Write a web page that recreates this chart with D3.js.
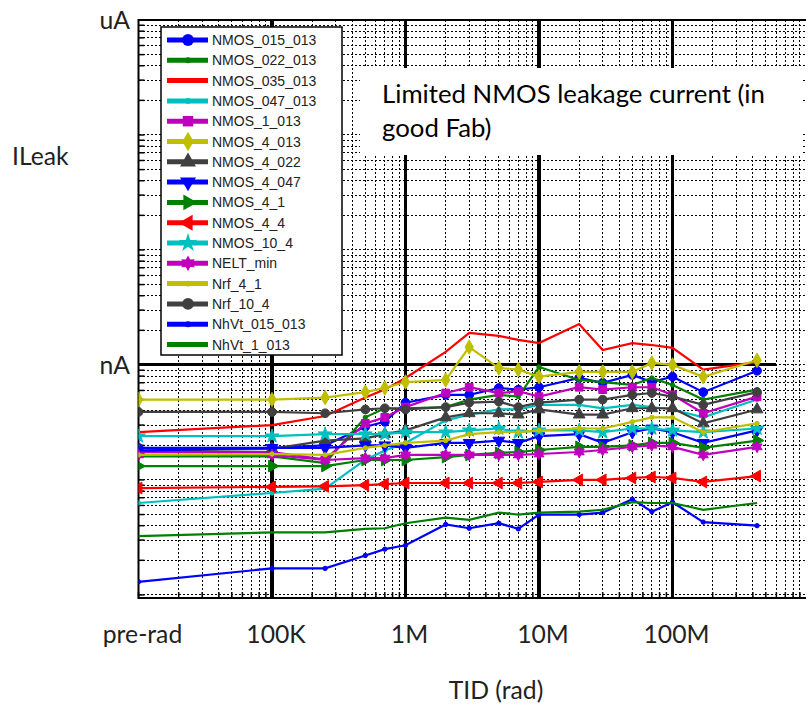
<!DOCTYPE html>
<html>
<head>
<meta charset="utf-8">
<script src="https://cdn.jsdelivr.net/npm/d3@7"></script>
<style>
  body { margin: 0; background: #fff; }
  svg { display: block; }
</style>
</head>
<body>
<script>
// doses in rad (pre-rad drawn at 1e4), currents in nA
var doses = [1e4, 1e5, 2.5e5, 5e5, 7e5, 1e6, 2e6, 3e6, 5e6, 7e6, 1e7, 2e7, 3e7, 5e7, 7e7, 1e8, 1.7e8, 4.3e8];
var xTickValues = [1e4, 1e5, 1e6, 1e7, 1e8];
var xTickLabels = ["pre-rad", "100K", "1M", "10M", "100M"];
var yTickValues = [1, 1000];
var yTickLabels = ["nA", "uA"];

var seriesNames = ["NMOS_015_013", "NMOS_022_013", "NMOS_035_013", "NMOS_047_013", "NMOS_1_013",
  "NMOS_4_013", "NMOS_4_022", "NMOS_4_047", "NMOS_4_1", "NMOS_4_4", "NMOS_10_4", "NELT_min",
  "Nrf_4_1", "Nrf_10_4", "NhVt_015_013", "NhVt_1_013"];

var nmos_015_013 = [0.19, 0.19, 0.20, 0.29, 0.32, 0.47, 0.55, 0.55, 0.63, 0.61, 0.64, 0.77, 0.70, 0.82, 0.71, 0.79, 0.58, 0.89];
var nmos_022_013 = [0.16, 0.16, 0.14, 0.35, 0.42, 0.42, 0.43, 0.50, 0.55, 0.53, 0.96, 0.74, 0.71, 0.67, 0.77, 0.67, 0.50, 0.61];
var nmos_035_013 = [0.26, 0.30, 0.36, 0.52, 0.61, 0.77, 1.30, 1.90, 1.79, 1.65, 1.55, 2.27, 1.35, 1.55, 1.49, 1.41, 0.91, 1.06];
var nmos_047_013 = [0.063, 0.077, 0.084, 0.15, 0.18, 0.21, 0.33, 0.37, 0.41, 0.41, 0.45, 0.45, 0.42, 0.45, 0.43, 0.41, 0.35, 0.50];
var nmos_1_013 = [0.175, 0.175, 0.15, 0.31, 0.35, 0.43, 0.57, 0.64, 0.57, 0.59, 0.53, 0.64, 0.61, 0.64, 0.64, 0.55, 0.38, 0.53];
var nmos_4_013 = [0.50, 0.50, 0.52, 0.58, 0.63, 0.71, 0.74, 1.43, 0.94, 0.91, 0.79, 0.87, 0.87, 0.87, 1.04, 1.00, 0.79, 1.10];
var nmos_4_022 = [0.18, 0.186, 0.22, 0.23, 0.25, 0.27, 0.35, 0.38, 0.38, 0.37, 0.41, 0.37, 0.37, 0.42, 0.42, 0.42, 0.31, 0.41];
var nmos_4_047 = [0.18, 0.19, 0.19, 0.20, 0.20, 0.19, 0.21, 0.21, 0.22, 0.21, 0.24, 0.25, 0.21, 0.26, 0.28, 0.26, 0.21, 0.27];
var nmos_4_1 = [0.132, 0.132, 0.132, 0.149, 0.149, 0.149, 0.158, 0.165, 0.172, 0.175, 0.182, 0.194, 0.194, 0.20, 0.21, 0.21, 0.19, 0.22];
var nmos_4_4 = [0.085, 0.087, 0.088, 0.090, 0.092, 0.094, 0.094, 0.094, 0.094, 0.094, 0.096, 0.10, 0.10, 0.104, 0.106, 0.104, 0.096, 0.108];
var nmos_10_4 = [0.24, 0.24, 0.25, 0.25, 0.25, 0.26, 0.26, 0.27, 0.28, 0.26, 0.27, 0.27, 0.26, 0.28, 0.28, 0.27, 0.26, 0.28];
var nelt_min = [0.165, 0.165, 0.149, 0.155, 0.155, 0.165, 0.165, 0.165, 0.165, 0.165, 0.168, 0.175, 0.182, 0.194, 0.20, 0.194, 0.165, 0.194];
var nrf_4_1 = [0.165, 0.168, 0.165, 0.19, 0.20, 0.21, 0.22, 0.25, 0.26, 0.26, 0.27, 0.28, 0.28, 0.32, 0.35, 0.35, 0.26, 0.31];
var nrf_10_4 = [0.39, 0.39, 0.38, 0.41, 0.42, 0.41, 0.43, 0.47, 0.48, 0.43, 0.47, 0.50, 0.50, 0.55, 0.57, 0.53, 0.45, 0.58];
var nhvt_015_013 = [0.013, 0.017, 0.017, 0.022, 0.025, 0.027, 0.041, 0.038, 0.042, 0.0375, 0.050, 0.050, 0.052, 0.068, 0.053, 0.064, 0.043, 0.040];
var nhvt_1_013 = [0.0325, 0.035, 0.035, 0.0375, 0.038, 0.042, 0.047, 0.045, 0.052, 0.050, 0.052, 0.053, 0.055, 0.064, 0.063, 0.063, 0.055, 0.063];

var seriesValues = [nmos_015_013, nmos_022_013, nmos_035_013, nmos_047_013, nmos_1_013, nmos_4_013,
  nmos_4_022, nmos_4_047, nmos_4_1, nmos_4_4, nmos_10_4, nelt_min, nrf_4_1, nrf_10_4, nhvt_015_013, nhvt_1_013];

// matlab-ish colour order and marker per series
var colors = ["#0000ff", "#008000", "#ff0000", "#00bfbf", "#bf00bf", "#bfbf00", "#404040", "#0000ff",
  "#008000", "#ff0000", "#00bfbf", "#bf00bf", "#bfbf00", "#404040", "#0000ff", "#008000"];
var markers = ["circle", "point", "none", "point", "square", "diamond", "triUp", "triDown",
  "triRight", "triLeft", "star", "hexagram", "point", "circle", "point", "none"];

function init(){

    var w = 808;
    var h = 710;
    var labelFont = "Lato, 'Open Sans', sans-serif";

    var svg = d3.select("body")
            .append("svg")
            .attr("width", w)
            .attr("height", h);

    var x = d3.scaleLog().domain([1e4, 1e9]).range([138.5, 806]);
    var y = d3.scaleLog().domain([0.0094, 1000]).range([598, 20]);

    var left = x.range()[0], right = x.range()[1];
    var top = y.range()[1], bottom = y.range()[0];

    // log grid values
    var xGrid = [];
    for (var k = 4; k <= 8; k++) {
        for (var m = 1; m <= 9; m++) xGrid.push(m * Math.pow(10, k));
    }
    var yGrid = [];
    for (var k2 = -2; k2 <= 2; k2++) {
        for (var m2 = 1; m2 <= 9; m2++) yGrid.push(+(m2 * Math.pow(10, k2)).toPrecision(3));
    }
    yGrid.push(1000);

    var grid = svg.append("g").attr("shape-rendering", "crispEdges");
    grid.selectAll("line.gx")
        .data(xGrid.filter(function(d){ return d > 1e4; }))
        .enter()
        .append("line")
        .attr("x1", function(d){ return x(d); })
        .attr("x2", function(d){ return x(d); })
        .attr("y1", top)
        .attr("y2", bottom)
        .attr("stroke", "#000")
        .attr("stroke-width", 1)
        .attr("stroke-dasharray", "2,2");

    grid.selectAll("line.gy")
        .data(yGrid.filter(function(d){ return d < 1000; }))
        .enter()
        .append("line")
        .attr("x1", left)
        .attr("x2", right)
        .attr("y1", function(d){ return y(d); })
        .attr("y2", function(d){ return y(d); })
        .attr("stroke", "#000")
        .attr("stroke-width", 1)
        .attr("stroke-dasharray", "2,2");

    // heavy decade lines
    grid.selectAll("line.mx")
        .data([1e5, 1e6, 1e7, 1e8])
        .enter()
        .append("line")
        .attr("x1", function(d){ return x(d); })
        .attr("x2", function(d){ return x(d); })
        .attr("y1", top)
        .attr("y2", bottom)
        .attr("stroke", "#000")
        .attr("stroke-width", 3.5);

    grid.append("line")
        .attr("x1", left)
        .attr("x2", x(6e8))
        .attr("y1", y(1))
        .attr("y2", y(1))
        .attr("stroke", "#000")
        .attr("stroke-width", 3);

    // frame and small inside ticks
    svg.append("path")
        .attr("d", "M" + right + "," + top + "H" + left + "V" + bottom + "H" + right)
        .attr("fill", "none")
        .attr("stroke", "#000")
        .attr("stroke-width", 2);

    svg.selectAll("line.ty")
        .data(yGrid)
        .enter()
        .append("line")
        .attr("x1", left)
        .attr("x2", left + 6)
        .attr("y1", function(d){ return y(d); })
        .attr("y2", function(d){ return y(d); })
        .attr("stroke", "#000")
        .attr("stroke-width", 1.5);

    svg.selectAll("line.tx")
        .data(xGrid)
        .enter()
        .append("line")
        .attr("x1", function(d){ return x(d); })
        .attr("x2", function(d){ return x(d); })
        .attr("y1", bottom)
        .attr("y2", bottom - 6)
        .attr("stroke", "#000")
        .attr("stroke-width", 1.5);

    // markers
    function markerPath(type, size){
        if (type === "hexagram") {
            var R = Math.sqrt(size) * 0.75, r = R * 0.55, pts = [];
            for (var i = 0; i < 12; i++) {
                var a = Math.PI / 6 * i - Math.PI / 2;
                var rr = i % 2 ? r : R;
                pts.push([rr * Math.cos(a), rr * Math.sin(a)]);
            }
            return "M" + pts.join("L") + "Z";
        }
        var sym = {
            circle: d3.symbolCircle, point: d3.symbolCircle, square: d3.symbolSquare,
            diamond: d3.symbolDiamond, triUp: d3.symbolTriangle, triDown: d3.symbolTriangle,
            triRight: d3.symbolTriangle, triLeft: d3.symbolTriangle, star: d3.symbolStar
        }[type];
        if (type === "point") size = size * 0.25;
        return d3.symbol().type(sym).size(size)();
    }
    function markerRotate(type){
        return {triDown: 180, triRight: 90, triLeft: -90}[type] || 0;
    }

    svg.append("clipPath").attr("id", "plotclip")
        .append("rect")
        .attr("x", left).attr("y", top)
        .attr("width", right - left).attr("height", bottom - top);

    var line = d3.line()
        .x(function(d){ return x(d[0]); })
        .y(function(d){ return y(d[1]); });

    var plot = svg.append("g").attr("clip-path", "url(#plotclip)");

    seriesValues.forEach(function(vals, s){
        var pts = doses.map(function(d, i){ return [d, vals[i]]; });
        var g = plot.append("g");
        g.append("path")
            .datum(pts)
            .attr("d", line)
            .attr("fill", "none")
            .attr("stroke", colors[s])
            .attr("stroke-width", 2.2);
        if (markers[s] !== "none") {
            g.selectAll("path.mk")
                .data(pts)
                .enter()
                .append("path")
                .attr("d", markerPath(markers[s], 60))
                .attr("transform", function(d){
                    return "translate(" + x(d[0]) + "," + y(d[1]) + ") rotate(" + markerRotate(markers[s]) + ")";
                })
                .attr("fill", colors[s])
                .attr("stroke", colors[s]);
        }
    });

    // legend
    var lg = svg.append("g");
    lg.append("rect")
        .attr("x", 161).attr("y", 27)
        .attr("width", 181).attr("height", 328)
        .attr("fill", "#fff")
        .attr("stroke", "#000")
        .attr("stroke-width", 1.5);

    var items = lg.selectAll("g.item")
        .data(seriesNames)
        .enter()
        .append("g")
        .attr("transform", function(d, i){ return "translate(167," + (40 + i * 20.3) + ")"; });

    items.append("line")
        .attr("x1", 0).attr("x2", 41)
        .attr("stroke", function(d, i){ return colors[i]; })
        .attr("stroke-width", 5);

    items.filter(function(d, i){ return markers[i] !== "none"; })
        .append("path")
        .attr("d", function(d){ return markerPath(markers[seriesNames.indexOf(d)], 110); })
        .attr("transform", function(d){
            return "translate(21,0) rotate(" + markerRotate(markers[seriesNames.indexOf(d)]) + ")";
        })
        .attr("fill", function(d){ return colors[seriesNames.indexOf(d)]; });

    items.append("text")
        .text(function(d){ return d; })
        .attr("x", 45)
        .attr("y", 0)
        .attr("dy", "0.36em")
        .attr("font-family", "'Liberation Sans', Arial, sans-serif")
        .attr("font-size", 14)
        .attr("fill", "#222");

    // annotation box
    svg.append("rect")
        .attr("x", 360).attr("y", 68)
        .attr("width", 442).attr("height", 87)
        .attr("fill", "#fff");

    function fit(sel, target){
        var cur = sel.node().getComputedTextLength();
        sel.attr("font-size", parseFloat(sel.attr("font-size")) * target / cur);
        return sel;
    }

    var note1 = svg.append("text")
        .text("Limited NMOS leakage current (in")
        .attr("x", 382).attr("y", 103)
        .attr("font-family", labelFont).attr("font-size", 22)
        .attr("fill", "#000");
    fit(note1, 383);
    svg.append("text")
        .text("good Fab)")
        .attr("x", 382).attr("y", 137)
        .attr("font-family", labelFont).attr("font-size", note1.attr("font-size"))
        .attr("fill", "#000");

    // axis labels
    var xl = svg.selectAll("text.xt")
        .data(xTickValues)
        .enter()
        .append("text")
        .text(function(d, i){ return xTickLabels[i]; })
        .attr("x", function(d){ return x(d) + 4; })
        .attr("y", 643)
        .attr("text-anchor", "middle")
        .attr("font-family", labelFont)
        .attr("font-size", 20)
        .attr("fill", "#222");
    var ref = xl.filter(function(d){ return d === 1e8; });
    var fs = 20 * 66 / ref.node().getComputedTextLength();
    xl.attr("font-size", fs);

    svg.selectAll("text.yt")
        .data(yTickValues)
        .enter()
        .append("text")
        .text(function(d, i){ return yTickLabels[i]; })
        .attr("x", 130)
        .attr("y", function(d){ return y(d) + 9; })
        .attr("text-anchor", "end")
        .attr("font-family", labelFont)
        .attr("font-size", fs)
        .attr("fill", "#222");

    svg.append("text")
        .text("ILeak")
        .attr("x", 12).attr("y", 165)
        .attr("font-family", labelFont).attr("font-size", fs)
        .attr("fill", "#222");

    svg.append("text")
        .text("TID (rad)")
        .attr("x", 496).attr("y", 699)
        .attr("text-anchor", "middle")
        .attr("font-family", labelFont).attr("font-size", fs)
        .attr("fill", "#222");
}
window.onload = init;
</script>
</body>
</html>
